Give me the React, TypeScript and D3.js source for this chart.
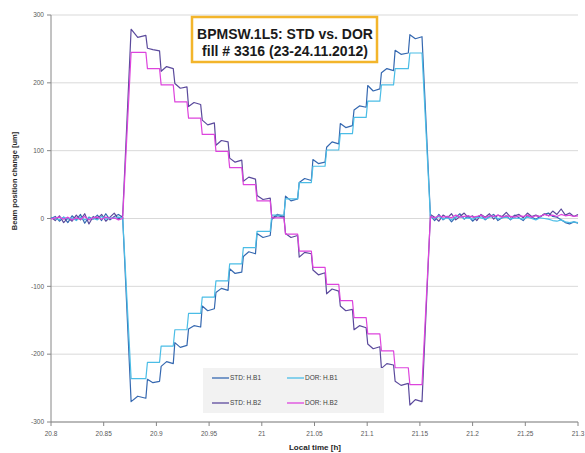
import React from 'react';
import * as d3 from 'd3';

// time grids for the flat (no bump) parts, hours
const timeLeft = [20.8, 20.804, 20.808, 20.812, 20.816, 20.82, 20.824, 20.828, 20.832, 20.836, 20.84, 20.844, 20.848, 20.852, 20.856, 20.86, 20.864, 20.868];
const timeRight = [21.16, 21.164, 21.168, 21.172, 21.176, 21.18, 21.184, 21.188, 21.192, 21.196, 21.2, 21.204, 21.208, 21.212, 21.216, 21.22, 21.224, 21.228, 21.232, 21.236, 21.24, 21.244, 21.248, 21.252, 21.256, 21.26, 21.264, 21.268, 21.272, 21.276, 21.28, 21.284, 21.288, 21.292, 21.296, 21.3];

// bump edges and the end of each plateau of the staircase
const riseEnd = 20.876;
const fallStart = 21.152;
const stepTimes = [20.89, 20.903, 20.916, 20.929, 20.942, 20.955, 20.968, 20.981, 20.994, 21.008, 21.021, 21.034, 21.047, 21.06, 21.073, 21.086, 21.099, 21.112, 21.125, 21.139];

// STD: H.B1
const stdB1Left = [0, 3, -4, 2, -6, 4, -2, 6, -7, 2, -1, 5, -3, 7, -2, 3, 6, 2];
const stdB1Levels = [-265, -240, -214, -187, -160, -133, -106, -79, -52, -25, 2, 29, 56, 83, 110, 137, 164, 191, 218, 244, 268];
const stdB1Spike = [-5, 3, -4, 4, -3, 4, -3, 5, -4, 3, -3, 4, -3, 4, -5, 3, -4, 5, -3, 4, 3];
const stdB1Wig = [3, -2, 3, -3, 2, -3, 3, -2, 3, -3, 2, -3, 3, -2, 3, -3, 2, -3, 3, -2, -3];
const stdB1Right = [4, -3, 6, -2, 3, -5, 2, 7, -1, 4, -4, 2, 5, -2, 3, 6, -3, 1, 4, -2, 5, 1, -3, 4, 2, -1, 3, 6, 8, 3, 2, -2, -6, -8, -5, -7];

// STD: H.B2
const stdB2Left = [2, -3, 4, -6, 1, -4, 5, -2, 7, -8, 3, -1, 6, -4, 2, 8, -1, 4];
const stdB2Levels = [270, 247, 221, 194, 168, 141, 113, 86, 58, 30, 3, -25, -52, -80, -107, -134, -161, -189, -216, -243, -270];
const stdB2Spike = [9, 4, -4, 5, -3, 4, -5, 3, -3, 4, -3, 3, -5, 4, -4, 5, -3, 4, -5, 3, -5];
const stdB2Wig = [-3, 2, 3, -2, 3, -3, 2, -3, 3, -2, 3, -3, 2, -3, 3, -2, 3, -3, 2, -3, 3];
const stdB2Right = [6, 2, -4, 5, 1, 7, -2, 3, 8, 1, 4, -3, 6, 2, 7, -1, 5, 3, 9, 2, 4, 6, 1, 8, 3, 5, 2, 7, 4, 11, 6, 14, 5, 8, 3, 6];

// DOR: H.B1
const dorB1Left = [1, 0, -2, 2, -1, 1, -3, 2, -2, 1, 0, -2, 3, -1, 1, 0, 2, 1];
const dorB1Levels = [-236, -212, -188, -164, -140, -116, -92, -67, -43, -19, 5, 29, 53, 77, 101, 125, 149, 173, 197, 221, 244];
const dorB1Right = [2, 0, 3, -1, 1, -2, 2, 3, 0, 1, -1, 2, 1, -1, 2, 3, 0, 1, 2, -1, 1, 0, -1, 2, 0, -2, 1, 0, -1, -3, -4, -2, -5, -6, -5, -6];

// DOR: H.B2
const dorB2Left = [-1, 1, 2, -1, 2, -2, 1, -1, 3, -2, 1, 2, -1, 2, 0, 1, -2, 0];
const dorB2Levels = [245, 221, 197, 172, 148, 124, 99, 75, 50, 26, 1, -23, -48, -72, -97, -121, -146, -170, -195, -220, -245];
const dorB2Right = [3, 1, 4, 2, 3, 1, 5, 2, 3, 4, 2, 3, 5, 1, 4, 3, 5, 2, 4, 3, 2, 4, 3, 5, 2, 4, 3, 6, 4, 5, 3, 6, 4, 5, 3, 4];

const xTicks = [20.8, 20.85, 20.9, 20.95, 21, 21.05, 21.1, 21.15, 21.2, 21.25, 21.3];
const yTicks = [-300, -200, -100, 0, 100, 200, 300];

const FONT = "'Liberation Sans', Arial, sans-serif";

type Pt = [number, number];

function buildSeries(left: number[], levels: number[], right: number[], spike?: number[], wig?: number[]): Pt[] {
  const pts: Pt[] = timeLeft.map((t, i) => [t, left[i]] as Pt);
  const starts = [riseEnd, ...stepTimes.map(t => t + 0.0015)];
  const ends = [...stepTimes, fallStart];
  levels.forEach((lv, i) => {
    if (spike && wig) {
      pts.push([starts[i], lv + spike[i]]);
      pts.push([starts[i] + (ends[i] - starts[i]) * 0.45, lv + wig[i]]);
      pts.push([ends[i], lv]);
    } else {
      pts.push([starts[i], lv]);
      pts.push([ends[i], lv]);
    }
  });
  timeRight.forEach((t, i) => pts.push([t, right[i]]));
  return pts;
}

const series = [
  { name: 'STD: H.B1', color: '#3568b0', pts: buildSeries(stdB1Left, stdB1Levels, stdB1Right, stdB1Spike, stdB1Wig) },
  { name: 'STD: H.B2', color: '#5b4a9c', pts: buildSeries(stdB2Left, stdB2Levels, stdB2Right, stdB2Spike, stdB2Wig) },
  { name: 'DOR: H.B1', color: '#4bbde6', pts: buildSeries(dorB1Left, dorB1Levels, dorB1Right) },
  { name: 'DOR: H.B2', color: '#dd44dd', pts: buildSeries(dorB2Left, dorB2Levels, dorB2Right) },
];

export default function App() {
  const W = 585;
  const H = 453;
  const x = d3.scaleLinear().domain([20.8, 21.3]).range([51, 578]);
  const y = d3.scaleLinear().domain([-300, 300]).range([422, 15]);
  const line = d3.line<Pt>().x(d => x(d[0])).y(d => y(d[1]));

  const legendOrder = [series[0], series[2], series[1], series[3]];

  return (
    <div style={{ position: 'absolute', left: 0, top: 0 }}>
      <svg width={W} height={H} style={{ display: 'block', background: '#fff' }}>
        {/* gridlines */}
        {yTicks.map(t => (
          <line key={'g' + t} x1={x(20.8)} x2={x(21.3)} y1={y(t)} y2={y(t)} stroke="#d9d9d9" strokeWidth={1} />
        ))}
        {/* axes */}
        <line x1={x(20.8)} x2={x(20.8)} y1={y(300)} y2={y(-300)} stroke="#868686" strokeWidth={1} />
        <line x1={x(20.8)} x2={x(21.3)} y1={y(-300)} y2={y(-300)} stroke="#868686" strokeWidth={1} />
        {yTicks.map(t => (
          <g key={'y' + t}>
            <line x1={x(20.8) - 4} x2={x(20.8)} y1={y(t)} y2={y(t)} stroke="#868686" />
            <text x={x(20.8) - 7} y={y(t) + 2.3} fontSize={6.5} fill="#595959" textAnchor="end" fontFamily={FONT}>{t}</text>
          </g>
        ))}
        {xTicks.map(t => (
          <g key={'x' + t}>
            <line x1={x(t)} x2={x(t)} y1={y(-300)} y2={y(-300) + 4} stroke="#868686" />
            <text x={x(t)} y={y(-300) + 14} fontSize={6.5} fill="#595959" textAnchor="middle" fontFamily={FONT}>{t}</text>
          </g>
        ))}
        {/* axis titles */}
        <text transform="translate(17,181) rotate(-90)" fontSize={7.5} fontWeight="bold" fill="#262626" textAnchor="middle" fontFamily={FONT}>
          Beam position change  [um]
        </text>
        <text x={315} y={450} fontSize={8} fontWeight="bold" fill="#262626" textAnchor="middle" fontFamily={FONT}>
          Local time  [h]
        </text>
        {/* data */}
        {series.map(s => (
          <path key={s.name} d={line(s.pts) || ''} fill="none" stroke={s.color} strokeWidth={1.2} strokeLinejoin="round" />
        ))}
        {/* title box */}
        <rect x={192} y={17} width={185} height={45} fill="#fff" stroke="#f3b52b" strokeWidth={2.5} />
        <text x={285} y={39} fontSize={14} fontWeight="bold" fill="#1a1a1a" textAnchor="middle" fontFamily={FONT}>BPMSW.1L5: STD vs. DOR</text>
        <text x={285} y={56} fontSize={14} fontWeight="bold" fill="#1a1a1a" textAnchor="middle" fontFamily={FONT}>fill # 3316 (23-24.11.2012)</text>
        {/* legend */}
        <rect x={203} y={368} width={181} height={45} fill="#f2f2f2" />
        {legendOrder.map((s, i) => {
          const col = i % 2;
          const row = Math.floor(i / 2);
          const lx = col === 0 ? 212 : 287;
          const ly = row === 0 ? 378 : 403;
          return (
            <g key={'l' + s.name}>
              <line x1={lx} x2={lx + 17} y1={ly} y2={ly} stroke={s.color} strokeWidth={1.3} />
              <text x={lx + 18} y={ly + 2.3} fontSize={6.5} fill="#404040" fontFamily={FONT}>{s.name}</text>
            </g>
          );
        })}
      </svg>
    </div>
  );
}
